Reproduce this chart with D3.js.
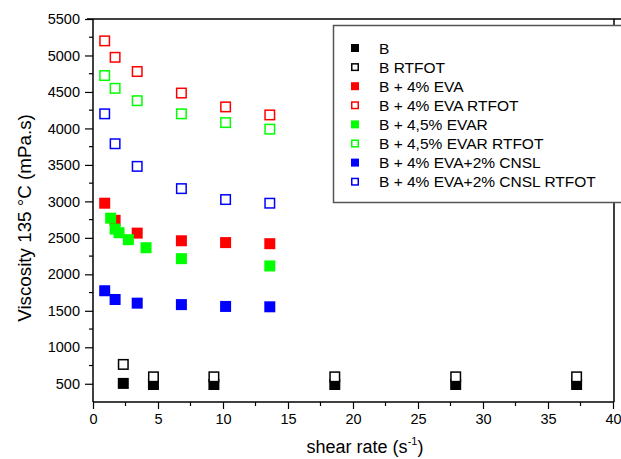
<!DOCTYPE html>
<html><head><meta charset="utf-8">
<script src="https://cdnjs.cloudflare.com/ajax/libs/d3/7.8.5/d3.min.js"></script>
<style>body{margin:0;background:#fff}svg{display:block;font-family:"Liberation Sans",Arial,sans-serif}</style>
</head><body><svg id="c" width="621" height="459"></svg>
<script>
const xB = [2.33, 4.65, 9.3, 18.6, 27.9, 37.2];
const yB = [505, 490, 490, 490, 490, 490];
const yBRtfot = [765, 595, 595, 595, 595, 595];
const xMod = [0.9, 1.7, 3.4, 6.8, 10.2, 13.6];
const yEVA = [2975, 2740, 2565, 2460, 2435, 2420];
const yEVARtfot = [5200, 4975, 4780, 4485, 4295, 4185];
const xEVAR = [1.36, 1.7, 2.0, 2.72, 4.08, 6.8, 13.6];
const yEVAR = [2770, 2620, 2570, 2475, 2365, 2215, 2115];
const yEVARRtfot = [4725, 4550, 4380, 4200, 4080, 3990];
const yCNSL = [1775, 1655, 1605, 1585, 1560, 1555];
const yCNSLRtfot = [4200, 3790, 3480, 3175, 3025, 2975];
const xTicks = [0, 5, 10, 15, 20, 25, 30, 35, 40];
const yTicks = [500, 1000, 1500, 2000, 2500, 3000, 3500, 4000, 4500, 5000, 5500];

const series = [
  {name: "B", xs: xB, ys: yB, color: "#000", filled: true},
  {name: "B RTFOT", xs: xB, ys: yBRtfot, color: "#000", filled: false},
  {name: "B + 4% EVA", xs: xMod, ys: yEVA, color: "#ff0000", filled: true},
  {name: "B + 4% EVA RTFOT", xs: xMod, ys: yEVARtfot, color: "#ff0000", filled: false},
  {name: "B + 4,5% EVAR", xs: xEVAR, ys: yEVAR, color: "#00ff00", filled: true},
  {name: "B + 4,5% EVAR RTFOT", xs: xMod, ys: yEVARRtfot, color: "#00ff00", filled: false},
  {name: "B + 4% EVA+2% CNSL", xs: xMod, ys: yCNSL, color: "#0000ff", filled: true},
  {name: "B + 4% EVA+2% CNSL RTFOT", xs: xMod, ys: yCNSLRtfot, color: "#0000ff", filled: false}
];

const svg = d3.select("#c");
const L = 93, T = 19, R = 613, B = 402;
const x = d3.scaleLinear().domain([0, 40]).range([L, R]);
const y = d3.scaleLinear().domain([250, 5500]).range([B, T]);
const FONT = '"Liberation Sans",Arial,sans-serif';

// frame
svg.append("line").attr("x1", L - 6).attr("x2", 621).attr("y1", T).attr("y2", T).attr("stroke", "#000").attr("stroke-width", 1.5);
svg.append("line").attr("x1", R+1).attr("x2", R+1).attr("y1", T).attr("y2", B).attr("stroke", "#000").attr("stroke-width", 1.5);

// x axis
const xa = svg.append("g").attr("transform", `translate(0,${B})`)
  .call(d3.axisBottom(x).tickValues(xTicks).tickSize(7).tickPadding(5).tickFormat(d3.format("d")));
xa.append("g").selectAll("line").data(d3.range(2.5, 40, 5)).join("line")
  .attr("x1", d => x(d)).attr("x2", d => x(d)).attr("y1", 0).attr("y2", 4).attr("stroke", "#000").attr("stroke-width", 1.2);
// y axis
const ya = svg.append("g").attr("transform", `translate(${L},0)`)
  .call(d3.axisLeft(y).tickValues(yTicks).tickSize(8).tickPadding(5).tickFormat(d3.format("d")));
ya.append("g").selectAll("line").data(d3.range(750, 5500, 500)).join("line")
  .attr("y1", d => y(d)).attr("y2", d => y(d)).attr("x1", 0).attr("x2", -4).attr("stroke", "#000").attr("stroke-width", 1.2);
[xa, ya].forEach(a => {
  a.select(".domain").attr("d", null);
  a.selectAll(".tick line").attr("stroke-width", 1.2);
  a.selectAll("text").attr("font-size", 14.5).attr("fill", "#000").attr("font-family", FONT);
});
svg.append("line").attr("x1", L).attr("x2", R+1).attr("y1", B).attr("y2", B).attr("stroke", "#000").attr("stroke-width", 1.5);
svg.append("line").attr("x1", L).attr("x2", L).attr("y1", T).attr("y2", B).attr("stroke", "#000").attr("stroke-width", 1.5);

// titles
const xt = svg.append("text").attr("x", 365).attr("y", 453).attr("text-anchor", "middle").attr("font-size", 18).attr("fill", "#000");
xt.append("tspan").text("shear rate (s");
xt.append("tspan").attr("dy", -8).attr("font-size", 11).text("-1");
xt.append("tspan").attr("dy", 8).text(")");
svg.append("text").attr("transform", `translate(31,218) rotate(-90)`).attr("text-anchor", "middle")
  .attr("font-size", 18.8).attr("fill", "#000").text("Viscosity 135 °C (mPa.s)");

// markers
const S = 11;
series.forEach(s => {
  const pts = s.xs.map((xv, i) => [xv, s.ys[i]]);
  svg.append("g").selectAll("rect").data(pts).join("rect")
    .attr("x", d => x(d[0]) - S/2 + (s.filled ? 0 : 0.75)).attr("y", d => y(d[1]) - S/2 + (s.filled ? 0 : 0.75))
    .attr("width", s.filled ? S : S - 1.5).attr("height", s.filled ? S : S - 1.5)
    .attr("fill", s.filled ? s.color : "#fff").attr("stroke", s.filled ? "none" : s.color).attr("stroke-width", 1.5);
});

// legend
svg.append("rect").attr("x", 333.5).attr("y", 25.5).attr("width", 300).attr("height", 177).attr("fill", "#fff").attr("stroke", "#555").attr("stroke-width", 1.5);
const lg = svg.append("g").selectAll("g").data(series).join("g").attr("transform", (d, i) => `translate(0,${48 + i*19.1})`);
lg.append("rect").attr("x", d => d.filled ? 351 : 351.75).attr("y", d => d.filled ? -4 : -3.25)
  .attr("width", d => d.filled ? 8 : 6.5).attr("height", d => d.filled ? 8 : 6.5)
  .attr("fill", d => d.filled ? d.color : "#fff").attr("stroke", d => d.filled ? "none" : d.color).attr("stroke-width", 1.5);
lg.append("text").attr("x", 379).attr("y", 5.5).attr("font-size", 15.5).attr("fill", "#000").text(d => d.name);
</script></body></html>
